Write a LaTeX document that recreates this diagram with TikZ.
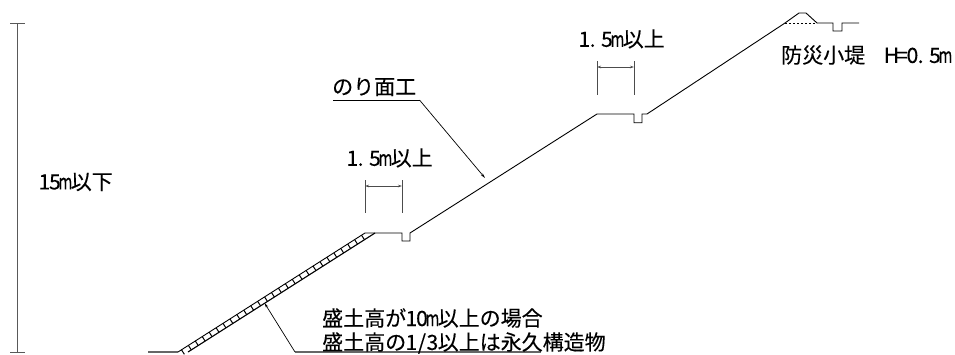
\documentclass[tikz,border=0pt]{standalone}
\usepackage{fontspec}
\setmainfont{Noto Sans CJK JP}[FakeBold=0.25]
\usetikzlibrary{arrows.meta}
\newcommand{\hc}[1]{\makebox[10.5pt][c]{#1}}
\newcommand{\hm}{\makebox[10.5pt][c]{\scalebox{0.72}[1]{m}}}
\newcommand{\hdot}{\makebox[12pt][l]{.}}
\tikzset{
  ln/.style={draw=black,line width=0.9pt,line join=miter},
  dimln/.style={draw=black!65,line width=1pt},
  ext/.style={draw=black!70,line width=0.9pt},
  dimarrow/.style={draw=black!70,line width=0.8pt,{Stealth[length=4pt,width=2.5pt]}-{Stealth[length=4pt,width=2.5pt]}},
  leader/.style={draw=black,line width=0.7pt,-{Stealth[length=5pt,width=2.5pt]}},
  lab/.style={inner sep=0pt,anchor=west,font=\fontsize{21pt}{22pt}\selectfont,text=black}
}
\begin{document}
\begin{tikzpicture}[x=1pt,y=-1pt]
\useasboundingbox (0,0) rectangle (955,354);
% height dimension
\coordinate (dT) at (17.5,23);
\coordinate (dB) at (17.5,352);
\draw[dimln] (dT) -- (dB);
\draw[dimln] (10,23) -- (25,23);
\draw[dimln] (10,352) -- (25,352);
\node[lab] (h) at (39,182) {\hc{1}\hc{5}\hm 以下};
% ground and slopes
\draw[draw=black!60,line width=1.4pt] (148,352) -- (178,352);
\draw[ln] (178,352) -- (365,233) -- (375,233) -- (402,233) -- (402,241) -- (410,241) -- (410,233)
  -- (597,114) -- (634,114) -- (634,122.7) -- (642,122.7) -- (642,114) -- (647,114) -- (785,23) -- (799,13) -- (806,13) -- (817,23) -- (833,23) -- (833,31) -- (842,31) -- (842,23) -- (859,23);
\draw[ln,dash pattern=on 2pt off 2pt] (785,23) -- (817,23);
% ladder band
\draw[ln,line width=1.1pt] (188,352) -- (375,233);
\foreach \t in {0,1,...,26}{
  \pgfmathsetmacro{\xa}{178+187*(\t+0.5)/27}
  \pgfmathsetmacro{\ya}{352-119*(\t+0.5)/27}
  \draw[draw=black,line width=1pt] (\xa,\ya) -- ++(2.9,4.5);
}
% dimensions
\draw[ext] (365,180) -- (365,213);
\draw[ext] (402,180) -- (402,213);
\coordinate (a1) at (365,186);
\coordinate (a2) at (402,186);
\draw[dimarrow] (a1) -- (a2);
\node[lab] (w1) at (347,158) {\hc{1}\hdot\hc{5}\hm 以上};
\draw[ext] (597,61) -- (597,95);
\draw[ext] (634,61) -- (634,95);
\coordinate (b1) at (597,67);
\coordinate (b2) at (634,67);
\draw[dimarrow] (b1) -- (b2);
\node[lab] (w2) at (579,39) {\hc{1}\hdot\hc{5}\hm 以上};
% labels and leaders
\node[lab] (nori) at (332,87) {のり面工};
\coordinate (n1) at (333,100);
\coordinate (n2) at (419.5,100);
\coordinate (n3) at (485,178);
\draw[draw=black,line width=0.8pt] (n1) -- (n2);
\draw[leader] (n2) -- (n3);
\node[lab] (dike) at (781,55) {防災小堤\hspace{21pt}\hc{H}\hc{=}\hc{0}\hdot\hc{5}\hm};
\coordinate (m1) at (541,352);
\coordinate (m2) at (295,352);
\coordinate (m3) at (264.5,303);
\draw[draw=black!60,line width=1.1pt] (m1) -- (m2);
\draw[leader] (m2) -- (m3);
\node[lab] (t1) at (322,318) {盛土高が\hc{1}\hc{0}\hm 以上の場合};
\node[lab] (t2) at (322,343) {盛土高の\hc{1}\hc{/}\hc{3}以上は永久構造物};
\end{tikzpicture}
\end{document}
